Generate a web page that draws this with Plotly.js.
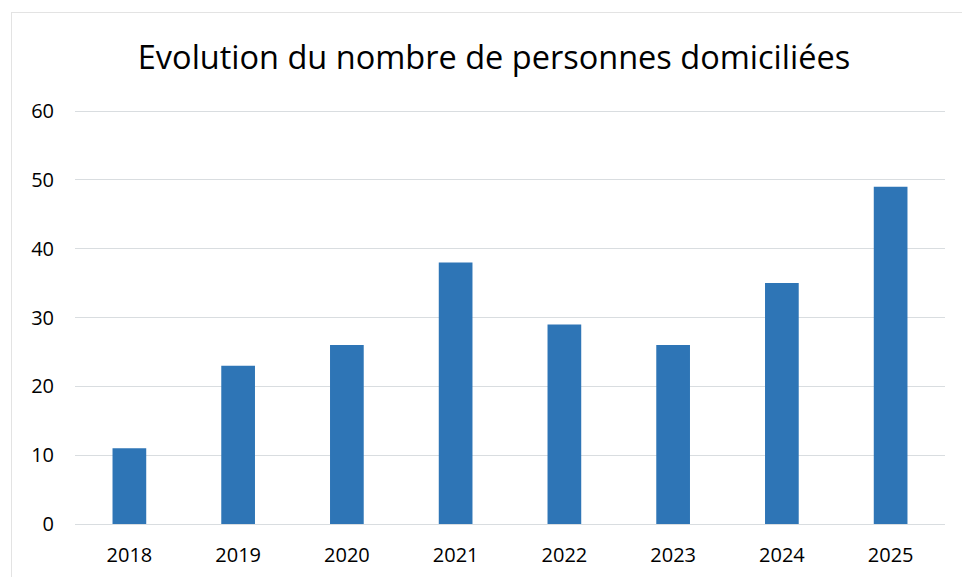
<!DOCTYPE html>
<html>
<head>
<meta charset="utf-8">
<script src="https://cdn.plot.ly/plotly-3.0.1.min.js"></script>
<style>
  html, body { margin: 0; padding: 0; background: #fff; }
  #wrap { position: relative; width: 962px; height: 577px; }
  #chart { width: 962px; height: 577px; }
  #frame { position: absolute; left: 11px; top: 12px; right: -2px; bottom: -2px;
           border-left: 1px solid #e3e3e3; border-top: 1px solid #e3e3e3; pointer-events: none; }
</style>
</head>
<body>
<div id="wrap">
  <div id="chart"></div>
  <div id="frame"></div>
</div>
<script>
const years = ['2018', '2019', '2020', '2021', '2022', '2023', '2024', '2025'];
const personnes = [11, 23, 26, 38, 29, 26, 35, 49];
const yTicks = [0, 10, 20, 30, 40, 50, 60];
const chartTitle = 'Evolution du nombre de personnes domiciliées';

const font = 'Open Sans, Calibri, Carlito, sans-serif';

const trace = {
  type: 'bar',
  x: years,
  y: personnes,
  marker: { color: '#2e75b6' },
  hoverinfo: 'x+y'
};

const layout = {
  width: 962,
  height: 577,
  margin: { l: 75, r: 17, t: 110, b: 53 },
  paper_bgcolor: '#ffffff',
  plot_bgcolor: '#ffffff',
  bargap: 0.69,
  showlegend: false,
  title: {
    text: chartTitle,
    font: { family: font, size: 32.5, color: '#000000' },
    xref: 'container', x: 0.5135, xanchor: 'center',
    yref: 'container', y: 1 - 58 / 577, yanchor: 'middle'
  },
  xaxis: {
    type: 'category',
    tickfont: { family: font, size: 20, color: '#000000' },
    showgrid: false,
    showline: false,
    zeroline: false,
    ticks: '',
    ticklabelstandoff: 17
  },
  yaxis: {
    range: [0, 60.15],
    tickvals: yTicks,
    ticktext: yTicks.map(String),
    tickfont: { family: font, size: 20, color: '#000000' },
    showgrid: true,
    gridcolor: '#d9dde0',
    gridwidth: 1,
    zeroline: true,
    zerolinecolor: '#d9dde0',
    zerolinewidth: 1,
    showline: false,
    ticks: '',
    ticklabelstandoff: 20
  }
};

Plotly.newPlot('chart', [trace], layout, { displayModeBar: false, staticPlot: true });
</script>
</body>
</html>
